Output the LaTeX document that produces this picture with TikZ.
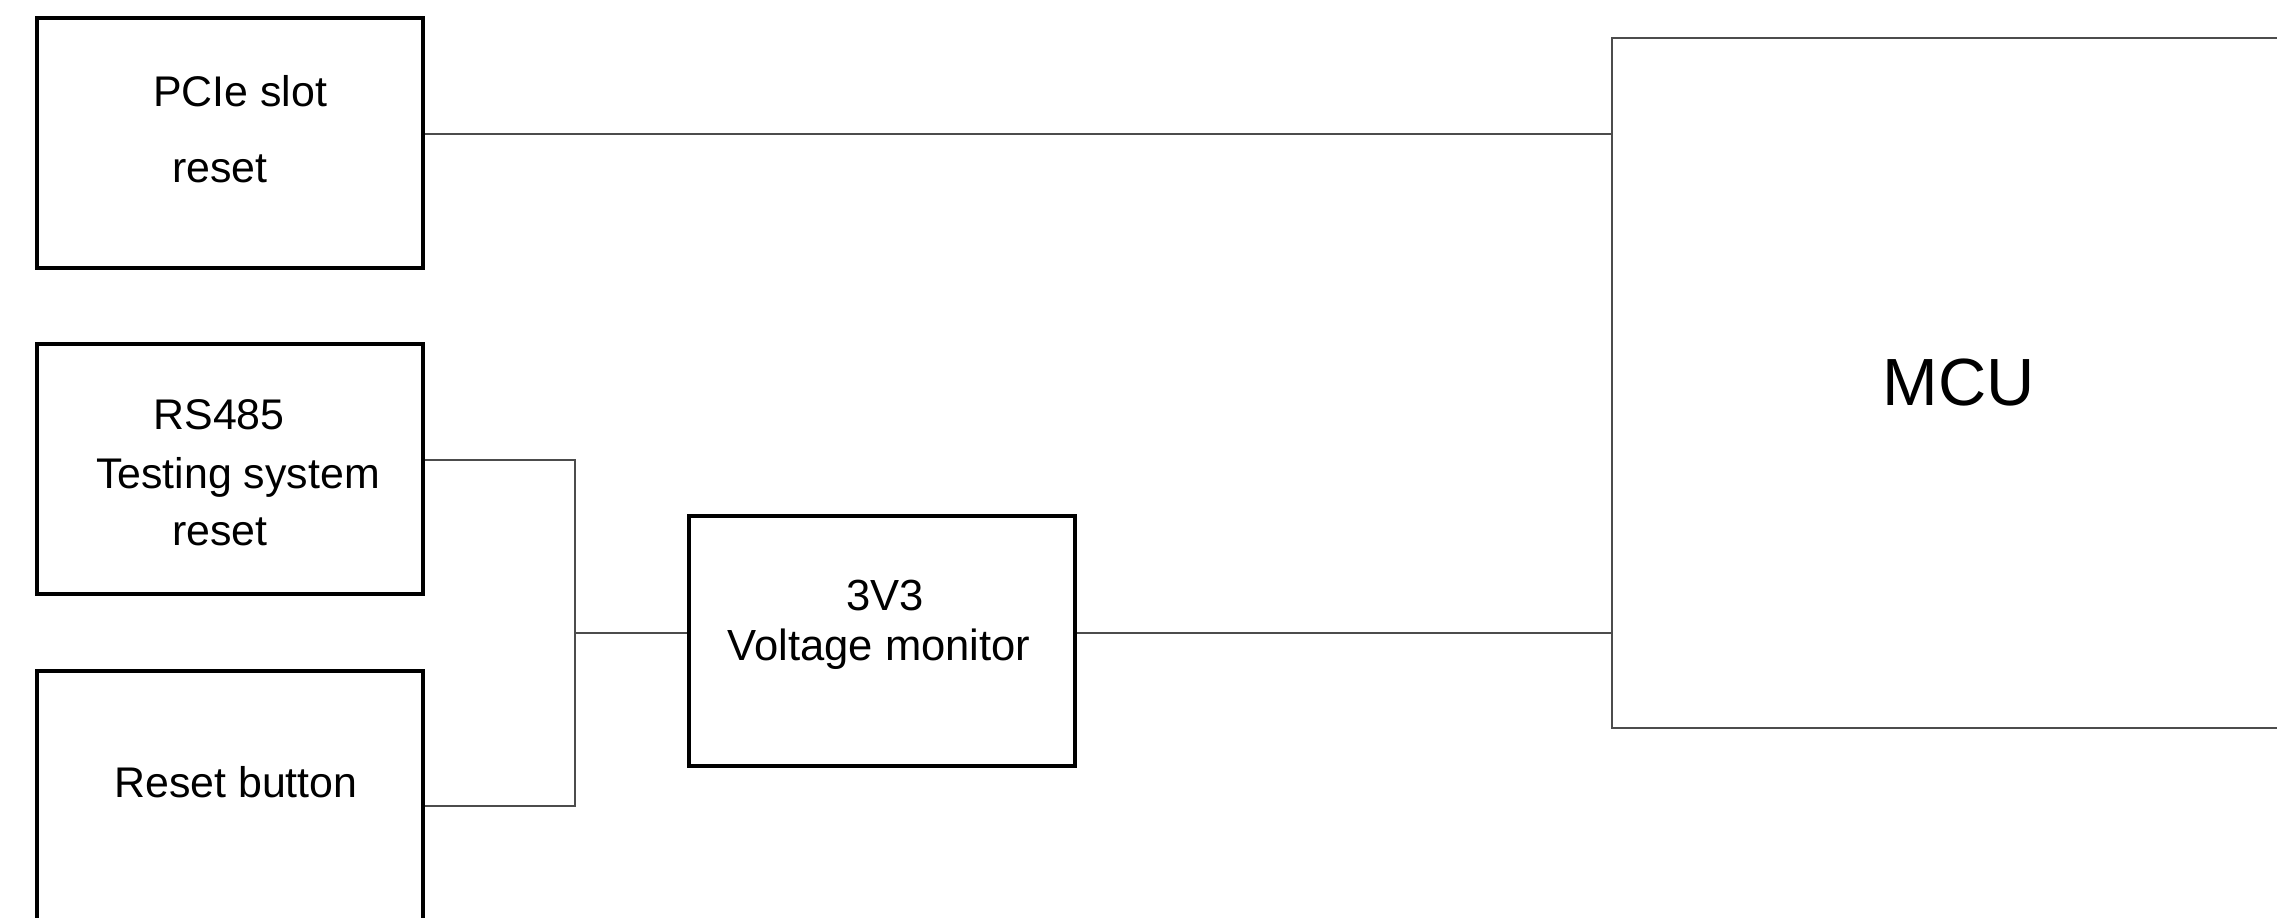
\documentclass[tikz,border=0pt]{standalone}
\usepackage{fontspec}
\setmainfont{Liberation Sans}
\usetikzlibrary{positioning,calc}

\tikzset{
  blk/.style={draw,line width=1.1pt,inner sep=0pt,minimum width=3.86cm,minimum height=2.5cm},
  lbl/.style={anchor=base,inner sep=0pt,font=\fontsize{12.2}{14}\selectfont},
  wire/.style={draw=black!70,line width=0.4pt}
}

\begin{document}
\begin{tikzpicture}
\useasboundingbox (0,0) rectangle (22.77,-9.17);
% blocks
\node[blk] (pcie) at (2.30,-1.43) {};
\node[blk] (rs) at (2.30,-4.69) {};
\node[blk] (btn) at (2.30,-7.96) {};
\node[blk] (vm) at (8.82,-6.41) {};
\node[draw=black!70,line width=0.4pt,minimum width=7.88cm,minimum height=6.9cm] (mcu) at (20.06,-3.83) {};
% texts
\node[lbl] (pcie1) at (2.40,-1.06) {PCIe slot};
\node[lbl] (pcie2) at (2.20,-1.82) {reset};
\node[lbl] (rs1) at (2.19,-4.29) {RS485};
\node[lbl] (rs2) at (2.38,-4.88) {Testing system};
\node[lbl] (rs3) at (2.20,-5.45) {reset};
\node[lbl] (btn1) at (2.36,-7.97) {Reset button};
\node[lbl,font=\fontsize{12.4}{14}\selectfont] (vm1) at (8.85,-6.10) {3V3};
\node[lbl,font=\fontsize{12.4}{14}\selectfont] (vm2) at (8.79,-6.60) {Voltage monitor};
\node[lbl,font=\fontsize{19}{22}\selectfont] (mcu1) at (19.59,-4.05) {MCU};
% wiring
\coordinate (pcieout) at ([yshift=0.9mm]pcie.east);
\coordinate (rsout) at ([yshift=0.9mm]rs.east);
\coordinate (btnout) at ([yshift=-1mm]btn.east);
\coordinate (join) at (5.75,-6.33);
\coordinate (vmin) at (vm.west |- join);
\coordinate (vmout) at (vm.east |- join);
\draw[wire] (pcieout) -- (pcieout -| mcu.west);
\draw[wire] (rsout) -- (rsout -| join) -- (btnout -| join) -- (btnout);
\draw[wire] (join) -- (vmin);
\draw[wire] (vmout) -- (vmout -| mcu.west);
\end{tikzpicture}
\end{document}
